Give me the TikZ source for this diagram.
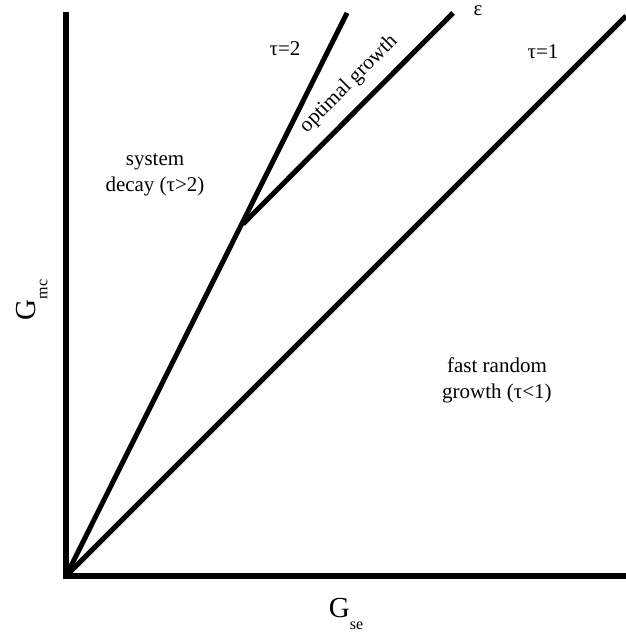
\documentclass[tikz,border=0pt]{standalone}
\usepackage{fontspec}
\setmainfont{Liberation Serif}
\usepackage{tikz}
\usetikzlibrary{positioning}

\begin{document}
\begin{tikzpicture}[
    x=1pt, y=1pt,
    font=\fontsize{21}{26}\selectfont,
    axis/.style={line width=6pt, line join=miter},
    regime/.style={line width=5pt},
    lbl/.style={align=center, inner sep=1pt},
    axlbl/.style={font=\fontsize{29}{30}\selectfont, inner sep=1pt}
  ]
    \useasboundingbox (0,0) rectangle (626,638);
    % Points
    \coordinate (O) at (66,62);
    \coordinate (ytop) at (66,626);
    \coordinate (xend) at (626,62);
    \coordinate (K) at (243,414);
    \coordinate (t1end) at (626,622);
    \coordinate (t2end) at (347,625);
    \coordinate (epsend) at (453,625);
    % Axes
    \draw[axis] (ytop) -- (O) -- (xend);
    % Regime lines
    \draw[regime] (O) -- (t1end);
    \draw[regime] (O) -- (t2end);
    \draw[regime] (K) -- (epsend);
    % Line labels
    \node[lbl] (t2) at (285,589) {τ=2};
    \node[lbl] (eps) at (478,627) {ε};
    \node[lbl] (t1) at (543,586) {τ=1};
    \node[lbl, rotate=45] (opt) at (349,554) {optimal growth};
    % Regions
    \node[lbl] (decay) at (155,463) {system\\decay (τ>2)};
    \node[lbl] (fast) at (497,258) {fast random\\growth (τ<1)};
    % Axis labels
    \node[axlbl, rotate=90] (gmc) at (32,338)
      {G\raisebox{-0.4em}{\fontsize{16}{16}\selectfont mc}};
    \node[axlbl] (gse) at (346,24)
      {G\raisebox{-0.4em}{\fontsize{16}{16}\selectfont se}};
\end{tikzpicture}
\end{document}
